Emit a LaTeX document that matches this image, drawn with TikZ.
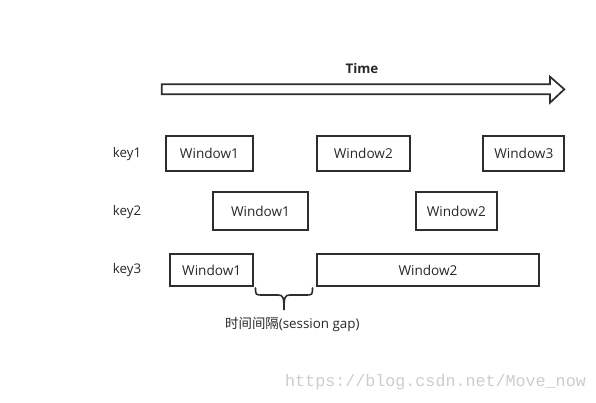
\documentclass[tikz,border=0pt]{standalone}
\usepackage{fontspec}
\setmainfont{Open Sans}
\newfontfamily\cjkfont{Noto Sans CJK SC}
\newfontfamily\wmfont{Liberation Mono}
\definecolor{linegray}{RGB}{45,45,45}
\definecolor{textgray}{RGB}{40,40,40}
\definecolor{wmgray}{RGB}{205,205,205}
\tikzset{
  win/.style={draw=linegray, line width=1.9pt, inner sep=0pt, font=\fontsize{13.6}{15}\selectfont, text=textgray},
  keylbl/.style={font=\fontsize{13.3}{15}\selectfont, text=textgray, anchor=west, inner sep=0pt},
}
\begin{document}
\begin{tikzpicture}[x=1pt,y=-1pt]
\useasboundingbox[fill=white] (0,0) rectangle (596,402);
% time arrow
\draw[linegray, line width=1.7pt, line join=miter]
  (161.7,84.3) -- (550,84.3) -- (550,76.7) -- (564.3,89.3) -- (550,102.7) -- (550,94.3) -- (161.7,94.3) -- cycle;
\node[font=\bfseries\fontsize{13.3}{15}\selectfont, text=textgray] (time) at (362,69) {Time};
% keys
\node[keylbl] (k1) at (112.7,154) {key1};
\node[keylbl] (k2) at (112.7,211.7) {key2};
\node[keylbl] (k3) at (112.7,270) {key3};
% key1 windows
\node[win, minimum width=87.6pt, minimum height=35.3pt] (a1) at (209.5,153.4) {Window1};
\node[win, minimum width=93.3pt, minimum height=35.3pt] (a2) at (363.3,153.4) {Window2};
\node[win, minimum width=81pt, minimum height=35.3pt] (a3) at (523.8,153.4) {Window3};
% key2 windows
\node[win, minimum width=94.4pt, minimum height=38.3pt] (b1) at (260.5,210.9) {Window1};
\node[win, minimum width=80.7pt, minimum height=38.3pt] (b2) at (456.3,210.9) {Window2};
% key3 windows
\node[win, minimum width=83.3pt, minimum height=31.7pt] (c1) at (211.7,269.9) {Window1};
\node[win, minimum width=222.6pt, minimum height=31.7pt] (c2) at (428,269.9) {Window2};
% brace
\coordinate (bl) at (255.5,288);
\coordinate (br) at (312.5,288);
\coordinate (bm) at (284,309.5);
\draw[linegray, line width=1.6pt, line cap=round]
  (bl) .. controls (255.5,295) and (256,295) .. (262,295) -- (278,295)
  .. controls (283,295) and (284,297) .. (bm);
\draw[linegray, line width=1.6pt, line cap=round]
  (br) .. controls (312.5,295) and (312,295) .. (306,295) -- (290,295)
  .. controls (285,295) and (284,297) .. (bm);
\node[font=\fontsize{13.4}{15}\selectfont, text=textgray, anchor=west, inner sep=0pt] (gap) at (225,324.5) {{\cjkfont 时间间隔}(session gap)};
% watermark
\node[font=\wmfont\fontsize{16.7}{18}\selectfont, text=wmgray, anchor=west, inner sep=0pt] (wm) at (285,381.7) {https://blog.csdn.net/Move\_now};
\end{tikzpicture}
\end{document}
